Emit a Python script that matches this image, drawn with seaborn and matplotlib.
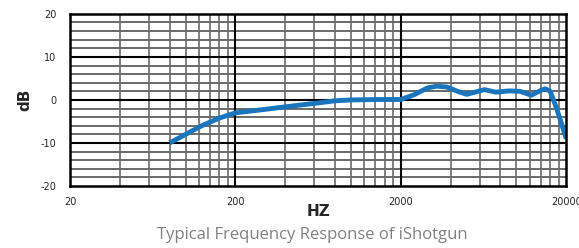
import matplotlib
matplotlib.use("Agg")
import matplotlib.pyplot as plt
import matplotlib.ticker as mticker
import seaborn as sns
import pandas as pd

# Frequency response
FREQ_HZ = [80, 100, 125, 160, 200, 300, 400, 600, 800, 1000, 1500, 2000,
           2400, 2900, 3300, 3800, 4400, 5000, 5600, 6400, 7500, 9000,
           10500, 12300, 14000, 14900, 16000, 17500, 20000]
LEVEL_DB = [-10, -8, -6, -4.2, -3, -2.2, -1.6, -0.8, -0.2, 0, 0.1, 0.1,
            1.2, 2.8, 3.2, 3.0, 2.0, 1.3, 1.8, 2.4, 1.8, 2.1,
            2.0, 1.1, 2.2, 2.6, 2.0, -2, -9]

X_TICKS = [20, 200, 2000, 20000]
Y_TICKS = [-20, -10, 0, 10, 20]

sns.set_style("white")
plt.rcParams["font.family"] = ["DejaVu Sans"]
plt.rcParams["axes.unicode_minus"] = False

df = pd.DataFrame({"freq": FREQ_HZ, "db": LEVEL_DB})

fig = plt.figure(figsize=(5.79, 2.48), dpi=100)
ax = fig.add_axes([0.121, 0.25, 0.857, 0.694])

ax.set_xscale("log")
ax.set_xlim(20, 20000)
ax.set_ylim(-20, 20)

# grid: minor every 2 dB and at 2..9 x each decade, major at decades / 10 dB
for y in range(-18, 20, 2):
    if y % 10:
        ax.axhline(y, color="#505050", lw=1.2, zorder=1)
for dec in [20, 200, 2000]:
    for k in range(2, 10):
        ax.axvline(dec * k, color="#6a6a6a", lw=1.2, zorder=1)
for y in [-10, 0, 10]:
    ax.axhline(y, color="black", lw=1.5, zorder=2)
for x in [200, 2000]:
    ax.axvline(x, color="black", lw=1.5, zorder=2)

sns.lineplot(data=df, x="freq", y="db", ax=ax, color="#1a75bc", lw=3.5,
             zorder=5, solid_capstyle="butt", solid_joinstyle="round")

for s in ax.spines.values():
    s.set_color("black")
    s.set_linewidth(1.8)
    s.set_zorder(6)

ax.xaxis.set_major_locator(mticker.FixedLocator(X_TICKS))
ax.xaxis.set_minor_locator(mticker.NullLocator())
ax.xaxis.set_major_formatter(mticker.FuncFormatter(lambda v, _: f"{v:.0f}"))
ax.set_yticks(Y_TICKS)
ax.tick_params(axis="both", length=0, labelsize=7, pad=8)
ax.tick_params(axis="y", pad=10)

ax.set_xlabel("HZ", fontsize=11, fontweight="bold", labelpad=-2)
ax.set_ylabel("dB", fontsize=11, fontweight="bold", labelpad=6)

fig.text(0.54, 0.02, "Typical Frequency Response of iShotgun",
         ha="center", va="bottom", fontsize=12, color="#808080",
         family=["Open Sans", "DejaVu Sans"])

fig.savefig("out.png", dpi=100)
